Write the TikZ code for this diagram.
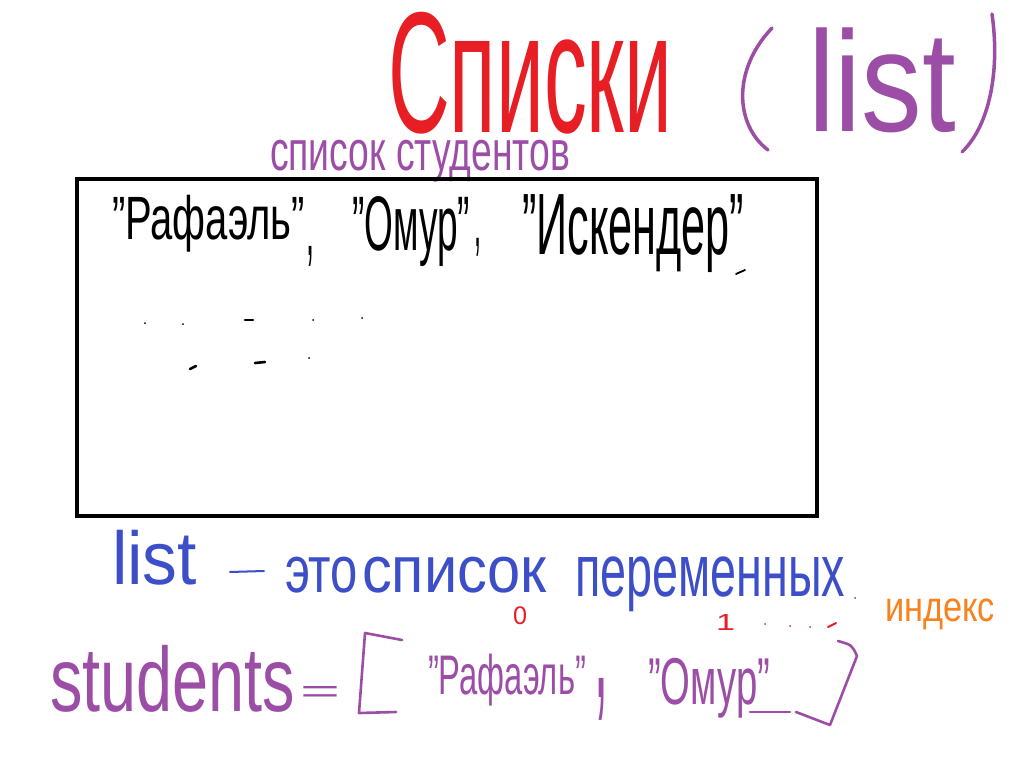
\documentclass[tikz,border=0pt]{standalone}
\usepackage{fontspec}
\setmainfont{Liberation Sans}
\usepackage{graphicx}
\definecolor{hred}{HTML}{E81E25}
\definecolor{hpurple}{HTML}{9C4EA6}
\definecolor{hblue}{HTML}{3D4FC8}
\definecolor{horange}{HTML}{F7821E}
\newcommand\fitbox[3]{\resizebox*{#1pt}{#2pt}{#3}}
\tikzset{
  hw/.style={anchor=north west, inner sep=0pt, outer sep=0pt},
  mark dot/.style={fill=black},
  stroke/.style={line width=2.6pt, line cap=round, line join=round},
}
\begin{document}
\begin{tikzpicture}[x=1pt,y=-1pt]
\useasboundingbox (0,0) rectangle (1030,760);
\fill[white] (0,0) rectangle (1030,760);
% title
\node[hw, text=hred] (title) at (388,12) {\fitbox{284}{122}{Списки}};
\draw[hpurple, stroke, line width=3.5pt] (772,28) .. controls (732,70) and (735,125) .. (768,150);
\node[hw, text=hpurple] (titlelist) at (808,28) {\fitbox{148}{105}{list}};
\draw[hpurple, stroke, line width=3.5pt] (992,14) .. controls (1000,70) and (990,125) .. (962,152);
\node[hw, text=hpurple] (caption) at (270,140) {\fitbox{300}{42}{список студентов}};
% box
\draw[line width=4pt] (77,179) rectangle (817,516);
\node[hw] (n1) at (112,195) {\fitbox{193}{57}{"Рафаэль"}};
\node[hw] (c1) at (306,246) {\fitbox{8}{20}{,}};
\node[hw] (n2) at (352,197) {\fitbox{118}{70}{"Омур"}};
\node[hw] (c2) at (474,238) {\fitbox{7}{18}{,}};
\node[hw] (n3) at (522,195) {\fitbox{222}{78}{"Искендер"}};
\draw[stroke, line width=1.8pt] (736,274) -- (745,270);
% stray marks
\foreach \p in {(145,323),(183,324),(313,320),(362,318),(309,358)}
  \fill[mark dot] \p circle (1pt);
\draw[stroke] (245,320) -- (253,320);
\draw[stroke] (190,369) -- (196,366);
\draw[stroke] (255,363) -- (265,362);
% blue sentence
\node[hw, text=hblue] (l1) at (112,530) {\fitbox{85}{55}{list}};
\draw[hblue, stroke, line width=2pt] (230,572) -- (264,571);
\node[hw, text=hblue] (l2) at (285,557) {\fitbox{73}{36}{это}};
\node[hw, text=hblue] (l3) at (362,557) {\fitbox{185}{36}{список}};
\node[hw, text=hblue] (l4) at (575,557) {\fitbox{270}{55}{переменных}};
\fill[hblue] (855,598) circle (1pt);
% indices
\node[hw, text=hred] (i0) at (513,607) {\fitbox{14}{18}{0}};
\node[hw, text=hred] (i1) at (716,614) {\fitbox{19}{16}{1}};
\foreach \p in {(765,624),(790,626),(810,627)}
  \fill[hred] \p circle (1pt);
\draw[hred, stroke, line width=2pt] (828,627) -- (836,623);
\node[hw, text=horange] (idx) at (885,599) {\fitbox{110}{31}{индекс}};
% students line
\node[hw, text=hpurple] (s1) at (50,645) {\fitbox{245}{67}{students}};
\node[hw, text=hpurple] (s2) at (300,686) {\fitbox{40}{16}{=}};
\draw[hpurple, stroke] (402,640) -- (365,633) -- (359,713) -- (396,712);
\node[hw, text=hpurple] (s4) at (428,654) {\fitbox{158}{52}{"Рафаэль"}};
\node[hw, text=hpurple] (s5) at (594,678) {\fitbox{14}{42}{,}};
\node[hw, text=hpurple] (s6) at (648,658) {\fitbox{122}{60}{"Омур"}};
\draw[hpurple, stroke, line width=2.2pt] (750,712) -- (790,712);
\draw[hpurple, stroke] (838,641) .. controls (852,645) .. (857,656) -- (830,725) -- (796,712);
\end{tikzpicture}
\end{document}
